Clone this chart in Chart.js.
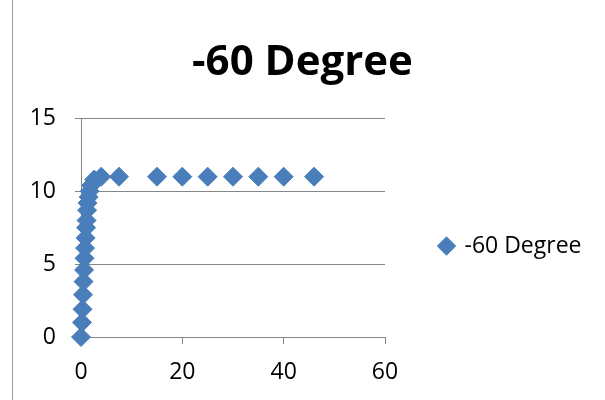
<!DOCTYPE html>
<html>
<head>
<meta charset="utf-8">
<script src="https://cdn.jsdelivr.net/npm/chart.js@4/dist/chart.umd.min.js"></script>
<style>
  html, body { margin: 0; padding: 0; background: #fff; }
  #wrap { position: relative; width: 605px; height: 400px; }
  #edge { position: absolute; left: 12px; top: 0; bottom: 0; border-left: 1px solid #9a9a9a; }
</style>
</head>
<body>
<div id="wrap">
  <div id="edge"></div>
  <canvas id="chart" width="605" height="400"></canvas>
</div>
<script>
  // valores
  const seriesName = '-60 Degree';
  const xValues = [0, 0.2, 0.3, 0.4, 0.5, 0.6, 0.7, 0.8, 0.9, 1.0, 1.1, 1.2, 1.3, 1.5, 1.7, 2.0, 2.6, 4, 7.5, 15, 20, 25, 30, 35, 40, 46];
  const yValues = [0, 1, 1.9, 2.9, 3.8, 4.6, 5.4, 6.1, 6.8, 7.5, 8.0, 8.7, 9.2, 9.6, 10.0, 10.4, 10.8, 11, 11, 11, 11, 11, 11, 11, 11, 11];
  const xTicks = [0, 20, 40, 60];
  const yTicks = [0, 5, 10, 15];

  const points = xValues.map((x, i) => ({ x: x, y: yValues[i] }));
  const axisGray = '#868686';
  const blue = '#4a7ebb';

  // leyenda a la derecha con hueco fijo respecto al área del gráfico
  const legendSpot = {
    id: 'legendSpot',
    beforeLayout(chart) {
      const lg = chart.legend;
      if (lg && !lg._wrapped) {
        const fit = lg.fit;
        lg.fit = function () { fit.call(this); this.width = 220; };
        lg._wrapped = true;
      }
    },
    afterLayout(chart) {
      const lg = chart.legend;
      lg.left += 45; lg.right += 45;
      lg.top += 46; lg.bottom += 46;
    }
  };

  const ctx = document.getElementById('chart').getContext('2d');
  new Chart(ctx, {
    type: 'scatter',
    data: {
      datasets: [{
        label: seriesName,
        data: points,
        pointStyle: 'rectRot',
        pointRadius: 9.5,
        pointHoverRadius: 9.5,
        backgroundColor: blue,
        borderColor: blue,
        borderWidth: 1,
        clip: false
      }]
    },
    plugins: [legendSpot],
    options: {
      responsive: false,
      animation: false,
      layout: { padding: 0 },
      plugins: {
        title: {
          display: true,
          text: seriesName,
          color: '#000',
          font: { family: 'Open Sans', size: 42, weight: 'bold' },
          padding: { top: 38, bottom: 30 }
        },
        legend: {
          position: 'right',
          labels: {
            usePointStyle: true,
            pointStyle: 'rectRot',
            boxWidth: 13,
            boxHeight: 13,
            color: '#000',
            font: { family: 'Open Sans', size: 23 },
            padding: 10
          }
        },
        tooltip: { enabled: false }
      },
      scales: {
        x: {
          type: 'linear',
          min: xTicks[0],
          max: xTicks[xTicks.length - 1],
          afterBuildTicks: (axis) => { axis.ticks = xTicks.map(v => ({ value: v })); },
          afterFit: (axis) => { axis.height = 63; },
          grid: { drawOnChartArea: false, drawTicks: true, tickLength: 7, color: axisGray },
          border: { display: true, color: axisGray },
          ticks: { color: '#000', font: { family: 'Open Sans', size: 23 }, padding: 15 }
        },
        y: {
          min: yTicks[0],
          max: yTicks[yTicks.length - 1],
          afterBuildTicks: (axis) => { axis.ticks = yTicks.map(v => ({ value: v })); },
          afterFit: (axis) => { axis.width = 81; },
          grid: { color: axisGray, drawTicks: true, tickLength: 6 },
          border: { display: true, color: axisGray },
          ticks: { color: '#000', font: { family: 'Open Sans', size: 23 }, padding: 19 }
        }
      }
    }
  });
</script>
</body>
</html>
